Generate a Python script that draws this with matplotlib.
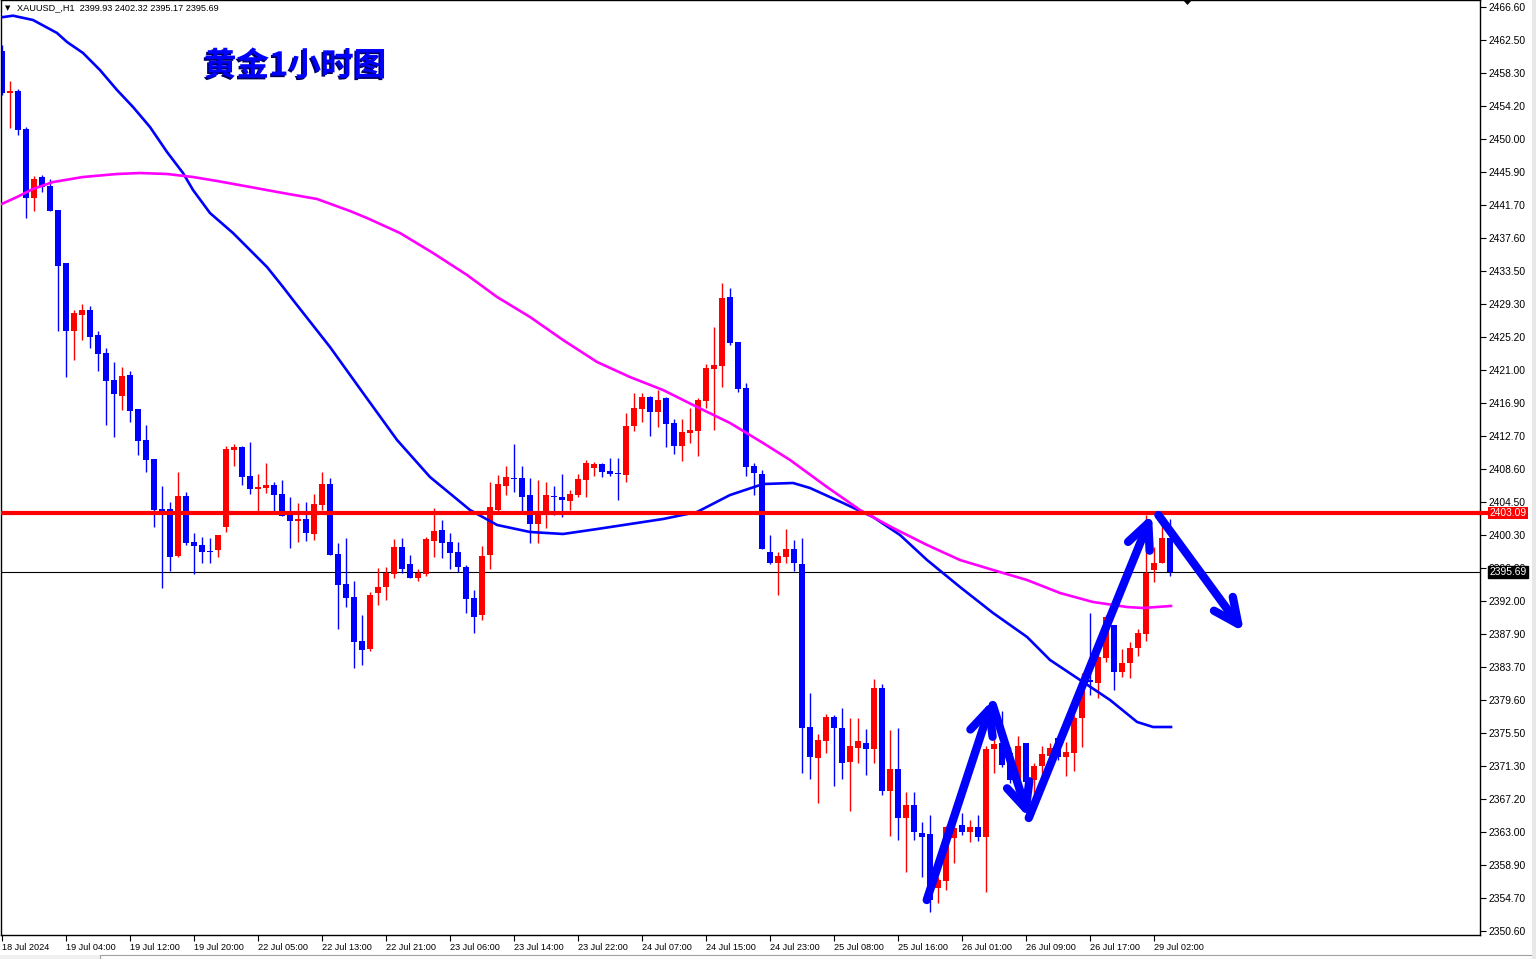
import matplotlib
matplotlib.use('Agg')
import matplotlib.pyplot as plt
import matplotlib.patheffects as pe
from matplotlib.transforms import blended_transform_factory
from matplotlib.patches import Rectangle, Polygon

# XAUUSD H1 candles (oldest first)
opens = [2461.08, 2455.81, 2456.06, 2451.29, 2442.63, 2445.26, 2444.13, 2441.12, 2434.47, 2425.93,
         2427.94, 2428.57, 2425.43, 2423.17, 2419.78, 2417.77, 2420.41, 2416.14, 2412.25, 2409.86,
         2403.58, 2403.58, 2397.69, 2405.22, 2399.45, 2399.07, 2398.31, 2398.44, 2401.32, 2410.99,
         2411.37, 2407.73, 2406.10, 2406.22, 2406.60, 2405.47, 2402.83, 2402.08, 2402.33, 2400.45,
         2404.09, 2406.72, 2397.94, 2394.17, 2392.54, 2387.01, 2386.01, 2393.04, 2393.79, 2395.43,
         2398.82, 2396.68, 2394.93, 2395.43, 2399.57, 2400.95, 2399.45, 2398.19, 2396.30, 2392.41,
         2390.28, 2397.81, 2403.46, 2406.47, 2407.48, 2407.48, 2405.34, 2401.70, 2402.83, 2405.22,
         2405.09, 2404.59, 2405.34, 2407.23, 2408.73, 2409.23, 2408.36, 2408.11, 2407.85, 2414.00,
         2416.14, 2417.64, 2415.76, 2417.52, 2414.38, 2411.49, 2413.12, 2413.38, 2417.14, 2421.16,
         2421.54, 2430.20, 2424.55, 2418.77, 2408.98, 2407.98, 2398.19, 2396.81, 2397.56, 2398.56,
         2396.68, 2376.22, 2372.33, 2374.46, 2377.47, 2376.09, 2371.82, 2373.58, 2374.21, 2373.46,
         2381.11, 2368.19, 2370.95, 2364.80, 2366.43, 2362.91, 2362.79, 2356.01, 2356.89, 2362.28,
         2363.92, 2363.04, 2363.67, 2362.41, 2373.46, 2374.21, 2372.96, 2369.56, 2374.21, 2369.56,
         2371.32, 2372.58, 2374.84, 2372.45, 2372.96, 2377.35, 2382.12, 2381.74, 2384.88, 2389.02,
         2383.12, 2384.25, 2386.14, 2387.89, 2395.93, 2396.81, 2399.93]
highs = [2461.83, 2457.31, 2456.31, 2451.54, 2445.39, 2445.51, 2445.01, 2441.12, 2434.47, 2428.57,
         2429.32, 2429.07, 2425.93, 2423.80, 2422.04, 2421.41, 2420.91, 2416.14, 2414.13, 2409.86,
         2406.47, 2404.46, 2408.23, 2405.72, 2400.57, 2400.07, 2399.94, 2400.32, 2411.49, 2411.74,
         2411.49, 2411.99, 2407.98, 2409.36, 2406.97, 2407.23, 2405.09, 2404.34, 2404.46, 2405.47,
         2408.23, 2407.48, 2399.32, 2399.94, 2394.55, 2390.28, 2393.16, 2396.18, 2396.30, 2399.82,
         2399.94, 2397.81, 2396.05, 2400.07, 2403.71, 2402.20, 2400.57, 2399.45, 2396.55, 2393.42,
         2398.94, 2406.97, 2407.85, 2408.98, 2411.74, 2408.98, 2407.48, 2407.23, 2406.97, 2406.47,
         2407.98, 2405.97, 2407.98, 2409.74, 2409.49, 2409.36, 2409.99, 2409.99, 2415.64, 2418.14,
         2418.14, 2417.77, 2418.52, 2417.64, 2414.88, 2414.88, 2416.26, 2417.52, 2421.79, 2426.43,
         2431.95, 2431.33, 2424.55, 2419.40, 2409.36, 2408.48, 2400.32, 2398.19, 2401.07, 2399.70,
         2399.94, 2380.49, 2375.34, 2377.85, 2377.73, 2378.60, 2377.35, 2377.35, 2375.97, 2382.25,
         2381.61, 2375.84, 2376.09, 2368.06, 2368.06, 2364.30, 2365.17, 2357.39, 2363.79, 2364.17,
         2365.42, 2364.55, 2365.17, 2373.84, 2375.84, 2378.23, 2373.71, 2375.09, 2374.21, 2371.70,
         2373.84, 2374.21, 2374.96, 2374.34, 2377.73, 2382.99, 2390.53, 2386.14, 2390.28, 2389.02,
         2386.01, 2386.89, 2388.52, 2402.83, 2398.82, 2401.95, 2402.32]
lows = [2455.55, 2451.41, 2450.53, 2440.11, 2440.99, 2443.38, 2440.99, 2425.93, 2420.15, 2422.29,
        2424.80, 2423.80, 2420.91, 2414.13, 2412.63, 2416.01, 2414.51, 2410.36, 2408.23, 2401.32,
        2393.67, 2395.80, 2397.56, 2399.07, 2395.43, 2396.81, 2396.81, 2397.56, 2400.70, 2408.98,
        2406.60, 2405.47, 2403.33, 2405.59, 2403.21, 2402.71, 2398.69, 2399.44, 2399.57, 2399.70,
        2403.46, 2397.81, 2388.52, 2391.32, 2383.63, 2384.00, 2385.76, 2391.53, 2392.16, 2394.93,
        2395.55, 2394.93, 2394.55, 2395.18, 2397.56, 2397.44, 2396.05, 2395.68, 2390.53, 2388.02,
        2389.65, 2396.05, 2403.21, 2405.34, 2405.72, 2403.33, 2399.32, 2399.32, 2401.20, 2402.83,
        2402.58, 2403.46, 2405.09, 2405.09, 2407.73, 2407.60, 2407.73, 2404.71, 2406.97, 2413.38,
        2414.51, 2412.75, 2413.88, 2411.37, 2410.49, 2409.61, 2411.87, 2410.24, 2416.26, 2413.50,
        2418.90, 2424.17, 2418.27, 2407.73, 2405.34, 2398.56, 2396.68, 2392.79, 2396.81, 2395.80,
        2370.45, 2369.69, 2366.68, 2372.96, 2368.81, 2369.69, 2365.68, 2371.70, 2370.19, 2371.70,
        2367.68, 2362.53, 2362.04, 2358.02, 2362.04, 2357.39, 2353.00, 2354.13, 2355.76, 2359.15,
        2362.66, 2361.78, 2361.91, 2355.51, 2370.45, 2371.19, 2369.19, 2368.94, 2368.06, 2367.43,
        2369.56, 2371.82, 2372.08, 2370.07, 2370.70, 2373.71, 2380.24, 2379.85, 2384.38, 2380.86,
        2382.50, 2382.37, 2385.14, 2387.01, 2394.42, 2396.81, 2395.17]
closes = [2455.81, 2456.06, 2451.16, 2442.63, 2445.01, 2444.01, 2440.99, 2434.09, 2425.93, 2428.19,
          2428.57, 2425.18, 2423.04, 2419.65, 2418.02, 2420.28, 2415.89, 2412.12, 2409.74, 2403.46,
          2403.33, 2397.56, 2405.22, 2399.32, 2398.94, 2398.19, 2398.19, 2400.32, 2411.12, 2411.37,
          2407.60, 2406.10, 2406.35, 2406.60, 2405.34, 2402.71, 2402.08, 2402.33, 2400.57, 2404.21,
          2406.72, 2397.81, 2394.05, 2392.41, 2386.89, 2385.89, 2392.79, 2393.79, 2395.55, 2398.82,
          2396.05, 2394.93, 2395.55, 2399.82, 2400.82, 2399.32, 2398.06, 2396.30, 2392.29, 2390.03,
          2397.69, 2403.83, 2406.72, 2407.60, 2407.35, 2405.09, 2401.70, 2402.83, 2405.34, 2405.09,
          2404.71, 2405.47, 2407.35, 2409.36, 2409.23, 2408.23, 2407.98, 2407.98, 2414.00, 2416.26,
          2417.64, 2415.76, 2417.27, 2414.25, 2411.49, 2413.25, 2413.50, 2417.27, 2421.29, 2421.66,
          2430.07, 2424.42, 2418.65, 2408.86, 2408.11, 2398.56, 2396.81, 2397.69, 2398.56, 2396.81,
          2376.09, 2372.45, 2374.59, 2377.47, 2376.09, 2371.70, 2373.84, 2374.46, 2373.46, 2381.11,
          2368.19, 2370.95, 2364.80, 2366.43, 2363.04, 2362.41, 2354.50, 2357.01, 2363.67, 2363.54,
          2363.04, 2363.67, 2362.41, 2373.46, 2374.09, 2371.45, 2369.56, 2373.84, 2369.31, 2371.32,
          2372.83, 2373.58, 2372.45, 2373.08, 2377.35, 2381.24, 2381.87, 2385.01, 2390.03, 2383.12,
          2384.25, 2386.14, 2388.02, 2395.55, 2396.81, 2399.94, 2395.69]

# moving averages, read at these bar positions
fast_x = [-0.08, 1.34, 3.84, 6.84, 8.09, 10.09, 12.21, 14.34, 16.34, 18.46, 20.59, 22.59, 23.84,
          25.96, 28.84, 30.96, 33.09, 35.09, 36.34, 40.96, 45.09, 49.34, 53.46, 58.46, 61.84, 65.96,
          70.09, 74.34, 78.46, 82.59, 86.84, 90.96, 95.09, 98.84, 100.96, 105.09, 108.84, 112.21,
          115.59, 119.71, 123.84, 128.09, 130.96, 134.34, 138.46, 141.84, 143.84, 146.08]
fast_ma = [2465.31, 2465.51, 2464.97, 2463.34, 2462.21, 2460.83, 2458.69, 2456.18, 2454.05, 2451.54,
           2448.40, 2445.76, 2443.63, 2440.74, 2438.23, 2436.10, 2433.96, 2431.45, 2429.82, 2423.92,
           2418.15, 2412.25, 2407.60, 2403.46, 2401.58, 2400.70, 2400.45, 2401.07, 2401.70, 2402.33,
           2403.21, 2405.34, 2406.72, 2406.85, 2406.22, 2404.34, 2402.58, 2400.32, 2397.18, 2393.79,
           2390.53, 2387.52, 2384.63, 2382.37, 2379.61, 2376.85, 2376.22, 2376.22]
slow_x = [-0.08, 1.84, 3.84, 6.34, 10.09, 14.34, 17.21, 20.59, 23.84, 26.84, 30.96, 35.09, 39.34,
          43.46, 45.59, 49.71, 53.84, 58.09, 61.84, 65.96, 70.09, 74.34, 78.46, 82.59, 86.84, 90.96,
          95.09, 98.46, 103.09, 107.21, 111.34, 115.59, 119.71, 123.84, 128.09, 132.21, 136.34,
          140.59, 142.59, 146.08]
slow_ma = [2441.87, 2442.75, 2443.76, 2444.63, 2445.26, 2445.64, 2445.76, 2445.64, 2445.26, 2444.76,
           2444.01, 2443.25, 2442.50, 2440.99, 2440.11, 2438.23, 2435.72, 2432.96, 2430.20, 2427.69,
           2424.80, 2422.04, 2420.15, 2418.52, 2416.39, 2414.38, 2411.87, 2409.74, 2406.34, 2403.46,
           2401.20, 2399.07, 2397.18, 2395.93, 2394.67, 2393.04, 2391.91, 2391.28, 2391.16, 2391.41]

resistance = 2403.09
last_price = 2395.69

y_ticks = [2466.60, 2462.50, 2458.30, 2454.20, 2450.00, 2445.90, 2441.70, 2437.60, 2433.50, 2429.30,
           2425.20, 2421.00, 2416.90, 2412.70, 2408.60, 2404.50, 2400.30, 2396.20, 2392.00, 2387.90,
           2383.70, 2379.60, 2375.50, 2371.30, 2367.20, 2363.00, 2358.90, 2354.70, 2350.60]
x_tick_idx = list(range(0, 145, 8))
x_tick_labels = ['18 Jul 2024', '19 Jul 04:00', '19 Jul 12:00', '19 Jul 20:00', '22 Jul 05:00',
                 '22 Jul 13:00', '22 Jul 21:00', '23 Jul 06:00', '23 Jul 14:00', '23 Jul 22:00',
                 '24 Jul 07:00', '24 Jul 15:00', '24 Jul 23:00', '25 Jul 08:00', '25 Jul 16:00',
                 '26 Jul 01:00', '26 Jul 09:00', '26 Jul 17:00', '29 Jul 02:00']

# hand drawn arrows: (from bar, from price, to bar, to price)
arrows = [(115.55, 2354.50, 123.75, 2379.61),
          (123.80, 2378.98, 128.30, 2364.80),
          (128.30, 2364.80, 143.70, 2402.96),
          (144.50, 2402.83, 155.20, 2388.15)]

plt.rcParams['font.family'] = ['Liberation Sans', 'DejaVu Sans']

W, H = 1536, 959
fig = plt.figure(figsize=(W / 100, H / 100), dpi=100)
ax = fig.add_axes([1 / W, 24 / H, 1479 / W, 935 / H])
ax.set_facecolor('white')

n = len(opens)
idx = list(range(n))
cols = ['#ff0000' if c >= o else '#0000ff' for o, c in zip(opens, closes)]
ax.vlines(idx, lows, highs, colors=cols, lw=1.0, zorder=2)
bottoms = [min(o, c) for o, c in zip(opens, closes)]
heights = [max(abs(c - o), 0.18) for o, c in zip(opens, closes)]
ax.bar(idx, heights, bottom=bottoms, width=0.74, color=cols, linewidth=0, zorder=2)

ax.plot(fast_x, fast_ma, color='#0000ff', lw=1.9, zorder=3, solid_joinstyle='round')
ax.plot(slow_x, slow_ma, color='#ff00ff', lw=1.9, zorder=3, solid_joinstyle='round')

ax.axhline(resistance, color='#ff0000', lw=3.0, zorder=4)
ax.axhline(last_price, color='black', lw=0.8, zorder=1)

for x0, y0, x1, y1 in arrows:
    ax.annotate('', xy=(x1, y1), xytext=(x0, y0),
                arrowprops=dict(arrowstyle='->,head_length=0.9,head_width=0.42',
                                mutation_scale=20, lw=6.0, color='#0000ff',
                                shrinkA=0, shrinkB=0, capstyle='round', joinstyle='round'),
                zorder=6)

ax.set_xlim(-0.16, 184.7)
ax.set_ylim(2350.11, 2467.48)

ax.yaxis.tick_right()
ax.set_yticks(y_ticks)
ax.set_yticklabels(['%.2f' % v for v in y_ticks])
ax.tick_params(axis='y', length=4, width=0.8, pad=2, labelsize=7.4, colors='black')
ax.set_xticks(x_tick_idx)
ax.set_xticklabels(x_tick_labels, ha='left')
ax.tick_params(axis='x', length=4, width=0.8, pad=2, labelsize=6.6, colors='black')
for s in ax.spines.values():
    s.set_color('black')
    s.set_linewidth(1.0)

tr = blended_transform_factory(ax.transAxes, ax.transData)
ax.plot([1.0, 1.006], [resistance, resistance], transform=tr, color='#ff0000', lw=3.0,
        clip_on=False, zorder=9)
ax.text(1.0065, resistance, '%.2f' % resistance, transform=tr, ha='left', va='center',
        fontsize=7.4, color='white', zorder=10, clip_on=False,
        bbox=dict(boxstyle='square,pad=0.12', fc='#ff0000', ec='none'))
ax.text(1.0065, last_price, '%.2f' % last_price, transform=tr, ha='left', va='center',
        fontsize=7.4, color='white', zorder=10, clip_on=False,
        bbox=dict(boxstyle='square,pad=0.12', fc='black', ec='black'))

# header and title
fig.text(5 / W, 1 - 8 / H, '\u25bc', fontsize=5, family=['DejaVu Sans'], va='center', ha='left')
fig.text(17 / W, 1 - 8 / H, 'XAUUSD_,H1  2399.93 2402.32 2395.17 2395.69', fontsize=6.6,
         va='center', ha='left', color='black')
fig.text(295 / W, 1 - 66 / H, '黄金1小时图', fontsize=23.5, fontweight='bold', color='#0000ff',
         family=['Noto Sans CJK SC', 'DejaVu Sans'], ha='center', va='center',
         path_effects=[pe.withSimplePatchShadow(offset=(-1.2, -1.2), shadow_rgbFace='#000060',
                                                alpha=1.0)])

# chart shift marker at the top
fig.patches.append(Polygon([[1183 / W, 1.0], [1192 / W, 1.0], [1187.5 / W, 1 - 5 / H]],
                           closed=True, transform=fig.transFigure, fc='black', ec='none'))
# window chrome: bottom tab strip and right border
fig.patches.append(Rectangle((0, 0), 1, 4 / H, transform=fig.transFigure,
                             fc='#f0f0f0', ec='none'))
fig.patches.append(Rectangle((100 / W, 0), 1 - 100 / W, 4 / H, transform=fig.transFigure,
                             fc='white', ec='#a0a0a0', lw=0.8))
fig.patches.append(Rectangle((1532 / W, 0), 4 / W, 1, transform=fig.transFigure,
                             fc='#e8e8e8', ec='none'))

fig.savefig('out.png', dpi=100, facecolor='white')
